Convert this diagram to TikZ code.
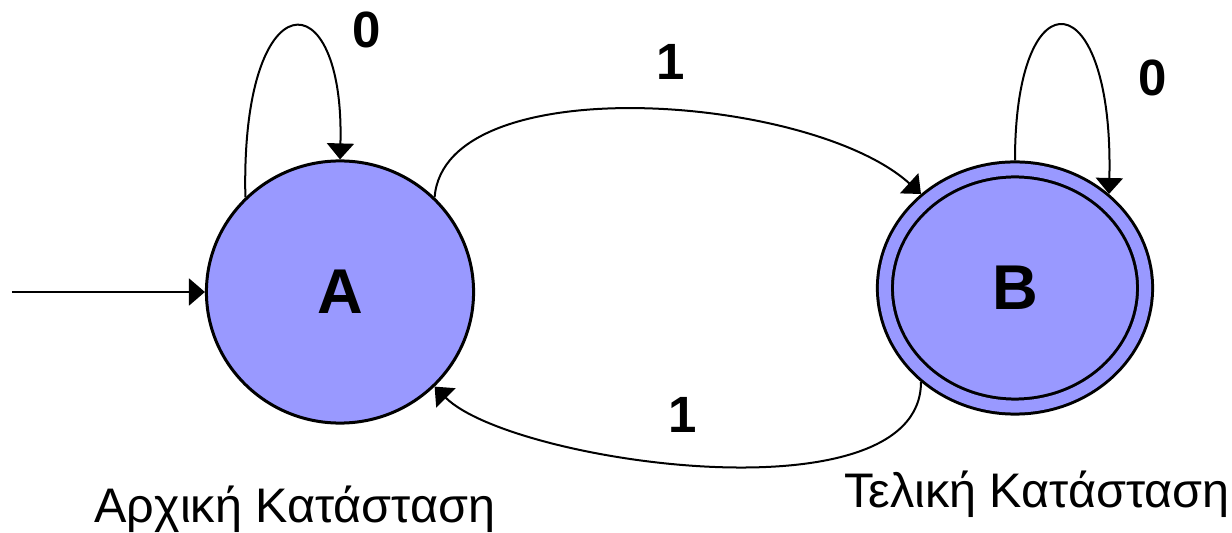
\documentclass[tikz,border=0pt]{standalone}
\usepackage{fontspec}
\setmainfont{Liberation Sans}
\usetikzlibrary{positioning}
\usetikzlibrary{shapes.geometric}
\usetikzlibrary{arrows.meta}
\definecolor{statefill}{HTML}{9999FF}

\begin{document}
\begin{tikzpicture}[
  x=0.01cm, y=0.01cm,
  statenode/.style={draw,ellipse,fill=statefill,line width=0.03cm,inner sep=0pt,
    font=\fontsize{18}{20}\selectfont\bfseries},
  finalnode/.style={statenode,double=statefill,double distance=0.12cm,outer sep=0.09cm},
  arr/.style={line width=0.02cm,-{Triangle[width=0.27cm,length=0.16cm]}},
  symb/.style={font=\fontsize{14.5}{16}\selectfont\bfseries},
  caption/.style={font=\fontsize{13.8}{15}\selectfont,anchor=base}
]
\useasboundingbox (0,0) rectangle (1232,533);

\node[statenode,minimum width=2.67cm,minimum height=2.62cm] (a) at (340,241) {A};
\node[finalnode,minimum width=2.6cm,minimum height=2.37cm] (b) at (1015,245) {B};

\coordinate (start) at (12,241);
\draw[arr] (start) -- (a);

% self loops
\draw[arr] (a.135) .. controls +(-5,220) and +(5,183) .. (a.90);
\draw[arr] (b.90) .. controls +(0,190) and +(5,213) .. (b.45);

% transitions between the states
\draw[arr] (a.45) .. controls +(10,130) and +(-110,100) .. (b.135);
\draw[arr] (b.225) .. controls +(0,-140) and +(76,-76) .. (a.-45);

\node[symb] (l0a) at (367,503) {0};
\node[symb] (l0b) at (1153,455) {0};
\node[symb] (l1t) at (671,471) {1};
\node[symb] (l1b) at (683,118) {1};

\node[caption] (capa) at (295,10) {Αρχική Κατάσταση};
\node[caption] (capb) at (1037,25) {Τελική Κατάσταση};
\end{tikzpicture}
\end{document}
